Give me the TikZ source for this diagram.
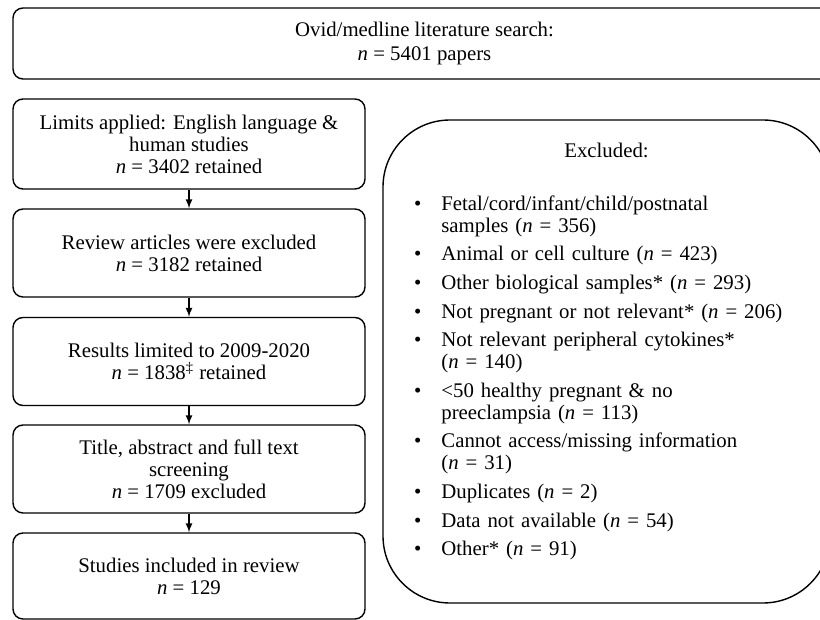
\documentclass[tikz,border=0pt]{standalone}
\usepackage{fontspec}
\setmainfont{Liberation Serif}
\usepackage{enumitem}
\usetikzlibrary{arrows}

\begin{document}
\begin{tikzpicture}[x=0.5pt, y=-0.5pt,
  font=\fontsize{10.4}{11}\selectfont,
  flowbox/.style={draw, line width=0.7pt, rounded corners=5pt, align=center,
                  minimum width=176pt, minimum height=44pt, inner sep=0pt},
  flowarrow/.style={->, >=latex, line width=0.55pt}]

\useasboundingbox (0,0) rectangle (820,620);

\node[flowbox, minimum width=411.5pt, minimum height=35.5pt] (Srch) at (424.5,43.5)
  {Ovid/medline literature search:\\[1pt] \textit{n} = 5401 papers};

\node[flowbox, minimum height=45pt] (Lim) at (189,144)
  {Limits applied: English language \&\\ human studies\\ \textit{n} = 3402 retained};
\node[flowbox] (Rev) at (189,253)
  {Review articles were excluded\\ \textit{n} = 3182 retained};
\node[flowbox] (Yrs) at (189,361.5)
  {Results limited to 2009-2020\\ \textit{n} = 1838\textsuperscript{\textdaggerdbl} retained};
\node[flowbox] (Scr) at (189,469)
  {Title, abstract and full text\\ screening\\ \textit{n} = 1709 excluded};
\node[flowbox, minimum height=43pt] (Inc) at (189,576)
  {Studies included in review\\ \textit{n} = 129};

\draw[flowarrow] (Lim) -- (Rev);
\draw[flowarrow] (Rev) -- (Yrs);
\draw[flowarrow] (Yrs) -- (Scr);
\draw[flowarrow] (Scr) -- (Inc);

\node[draw, line width=0.7pt, rounded corners=33.5pt, inner sep=0pt,
      minimum width=223.5pt, minimum height=241.5pt] (Exc) at (606.5,361.5) {};
\node[anchor=base] (ExcHead) at (606.5,158) {Excluded:};
\node[anchor=north west, text width=205pt, inner sep=0pt, align=left] (ExcList) at (417,188)
{\begin{itemize}[leftmargin=12pt, labelsep=10pt, itemsep=3.3pt, parsep=0pt,
                 topsep=0pt, partopsep=0pt]
  \item Fetal/cord/infant/child/postnatal\newline samples (\textit{n} = 356)
  \item Animal or cell culture (\textit{n} = 423)
  \item Other biological samples* (\textit{n} = 293)
  \item Not pregnant or not relevant* (\textit{n} = 206)
  \item Not relevant peripheral cytokines*\newline (\textit{n} = 140)
  \item <50 healthy pregnant \& no\newline preeclampsia (\textit{n} = 113)
  \item Cannot access/missing information\newline (\textit{n} = 31)
  \item Duplicates (\textit{n} = 2)
  \item Data not available (\textit{n} = 54)
  \item Other* (\textit{n} = 91)
\end{itemize}};

\end{tikzpicture}
\end{document}
